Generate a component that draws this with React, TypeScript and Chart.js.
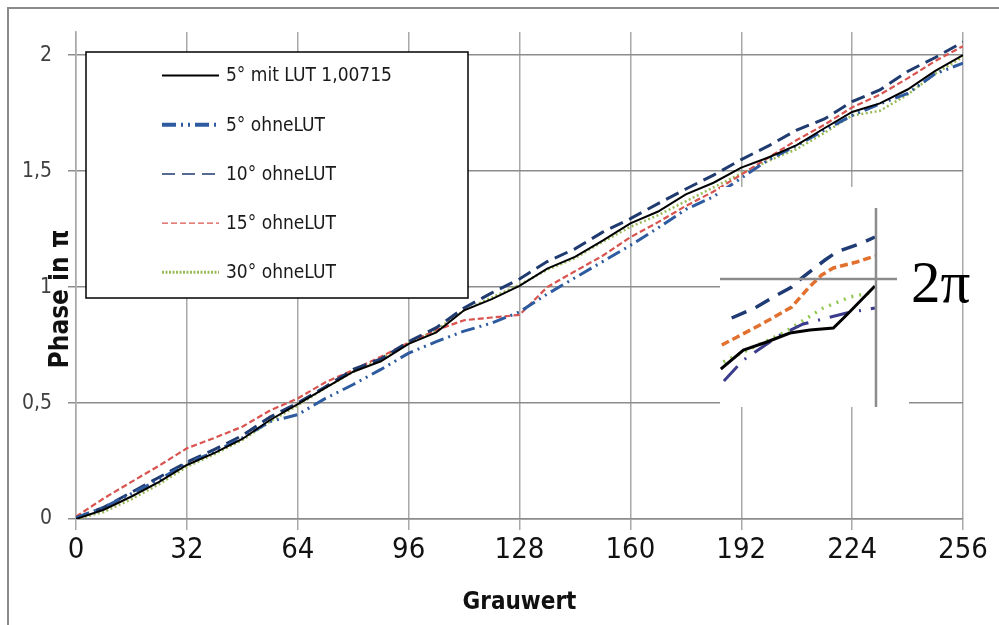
import React, { useEffect, useRef } from "react";
import { Chart, registerables } from "chart.js";
Chart.register(...registerables);

// ---------- main chart data ----------
const grauwert = [0, 8, 16, 24, 32, 40, 48, 56, 64, 72, 80, 88, 96, 104, 112, 120, 128, 136, 144, 152, 160, 168, 176, 184, 192, 200, 208, 216, 224, 232, 240, 248, 256];
const mitLut5 = [0.0, 0.04, 0.097, 0.16, 0.233, 0.285, 0.345, 0.427, 0.495, 0.565, 0.635, 0.68, 0.755, 0.805, 0.9, 0.948, 1.005, 1.08, 1.13, 1.2, 1.275, 1.326, 1.4, 1.45, 1.515, 1.56, 1.612, 1.685, 1.755, 1.792, 1.852, 1.932, 2.0];
const ohneLut5 = [0.005, 0.05, 0.11, 0.17, 0.24, 0.29, 0.35, 0.42, 0.45, 0.52, 0.58, 0.645, 0.715, 0.765, 0.81, 0.845, 0.893, 0.97, 1.04, 1.11, 1.18, 1.255, 1.335, 1.39, 1.47, 1.55, 1.61, 1.677, 1.74, 1.79, 1.835, 1.92, 1.966];
const ohneLut10 = [0.005, 0.05, 0.115, 0.18, 0.245, 0.3, 0.36, 0.44, 0.5, 0.57, 0.645, 0.69, 0.765, 0.825, 0.91, 0.975, 1.035, 1.11, 1.165, 1.237, 1.295, 1.36, 1.423, 1.483, 1.55, 1.61, 1.677, 1.725, 1.8, 1.85, 1.93, 1.99, 2.057];
const ohneLut15 = [0.01, 0.089, 0.16, 0.23, 0.305, 0.35, 0.398, 0.468, 0.52, 0.59, 0.642, 0.7, 0.76, 0.815, 0.857, 0.869, 0.88, 1.0, 1.068, 1.135, 1.215, 1.28, 1.35, 1.412, 1.485, 1.56, 1.634, 1.7, 1.775, 1.83, 1.9, 1.975, 2.039];
const ohneLut30 = [0.0, 0.03, 0.085, 0.15, 0.225, 0.28, 0.34, 0.42, 0.49, 0.565, 0.635, 0.69, 0.76, 0.815, 0.9, 0.955, 1.01, 1.075, 1.125, 1.195, 1.26, 1.31, 1.37, 1.43, 1.49, 1.545, 1.595, 1.665, 1.74, 1.76, 1.83, 1.92, 1.993];

const seriesLabels = ["5° mit LUT 1,00715", "5° ohneLUT", "10° ohneLUT", "15° ohneLUT", "30° ohneLUT"];
const xTicks = [0, 32, 64, 96, 128, 160, 192, 224, 256];
const yTicks = [0, 0.5, 1, 1.5, 2];
const yTickLabels = ["0", "0,5", "1", "1,5", "2"];
const xTitle = "Grauwert";
const yTitle = "Phase in π";

// ---------- inset (zoom near 2π) data ----------
const insetX10 = [250.45, 251.41, 251.92, 252.76, 253.19, 254.04, 254.49, 255.45, 255.96];
const insetY10 = [1.961, 1.972, 1.98, 1.992, 2.002, 2.019, 2.027, 2.036, 2.042];
const insetX15 = [250.07, 251.54, 252.76, 253.4, 253.91, 254.36, 255.26, 255.96];
const insetY15 = [1.934, 1.954, 1.972, 1.991, 2.004, 2.011, 2.017, 2.023];
const insetX30 = [250.13, 250.9, 252.43, 253.97, 255.0, 255.96];
const insetY30 = [1.917, 1.927, 1.946, 1.971, 1.982, 1.987];
const insetXLut = [250.03, 250.9, 251.8, 252.69, 253.46, 254.36, 254.87, 255.96];
const insetYLut = [1.91, 1.929, 1.937, 1.946, 1.949, 1.951, 1.964, 1.993];
const insetX5 = [250.15, 250.9, 252.31, 253.2, 254.87, 255.96];
const insetY5 = [1.898, 1.919, 1.944, 1.955, 1.966, 1.971];
const insetMark = "2π";

const pairs = (xs: number[], ys: number[]) => xs.map((x, i) => ({ x, y: ys[i] }));

const COND = "'DejaVu Sans Condensed', 'DejaVu Sans', sans-serif";
const NARROW = "'Liberation Sans Narrow', 'DejaVu Sans Condensed', sans-serif";

const boxLegend = {
  id: "boxLegend",
  afterDatasetsDraw(chart: any) {
    const { ctx } = chart;
    ctx.save();
    ctx.fillStyle = "#ffffff";
    ctx.fillRect(86, 52, 382, 246);
    ctx.strokeStyle = "#000000";
    ctx.lineWidth = 1.5;
    ctx.strokeRect(86, 52, 382, 246);
    chart.data.datasets.forEach((ds: any, i: number) => {
      const y = 75.5 + i * 49.2;
      ctx.beginPath();
      ctx.setLineDash(ds.legendDash || []);
      ctx.strokeStyle = ds.borderColor;
      ctx.lineWidth = ds.legendWidth;
      ctx.moveTo(162, y);
      ctx.lineTo(219, y);
      ctx.stroke();
      ctx.setLineDash([]);
      ctx.fillStyle = "#1a1a1a";
      ctx.font = `19px ${COND}`;
      ctx.textBaseline = "middle";
      ctx.textAlign = "left";
      ctx.fillText(ds.label, 226, y + 1);
    });
    // axis titles
    ctx.fillStyle = "#111";
    ctx.textAlign = "center";
    ctx.textBaseline = "middle";
    ctx.font = `bold 24px ${COND}`;
    ctx.fillText(xTitle, chart.scales.x.getPixelForValue(128), 603);
    ctx.translate(61, 299);
    ctx.rotate(-Math.PI / 2);
    ctx.font = `bold 26px ${COND}`;
    ctx.fillText(yTitle, 0, 0);
    ctx.restore();
  },
};

const crosshair = {
  id: "crosshair",
  afterDatasetsDraw(chart: any) {
    const { ctx, scales } = chart;
    const { x, y } = scales;
    ctx.save();
    ctx.strokeStyle = "#8c8c8c";
    ctx.lineWidth = 2.5;
    ctx.beginPath();
    ctx.moveTo(x.getPixelForValue(250), y.getPixelForValue(2));
    ctx.lineTo(x.getPixelForValue(256.81), y.getPixelForValue(2));
    ctx.moveTo(x.getPixelForValue(256), y.getPixelForValue(2.071));
    ctx.lineTo(x.getPixelForValue(256), y.getPixelForValue(1.872));
    ctx.stroke();
    ctx.restore();
  },
};

export default function App() {
  const mainRef = useRef<HTMLCanvasElement>(null);
  const insetRef = useRef<HTMLCanvasElement>(null);

  useEffect(() => {
    const mk = (xs: number[], ys: number[]) => xs.map((x, i) => ({ x, y: ys[i] }));
    const main = new Chart(mainRef.current!, {
      type: "line",
      data: {
        datasets: [
          { label: seriesLabels[0], data: mk(grauwert, mitLut5), borderColor: "#000000", borderWidth: 2, borderDash: [], legendDash: [], legendWidth: 2.2 } as any,
          { label: seriesLabels[1], data: mk(grauwert, ohneLut5), borderColor: "#2e5b9f", borderWidth: 3, borderDash: [14, 5, 2, 5, 2, 5], legendDash: [14, 5, 2, 5, 2, 5], legendWidth: 4 } as any,
          { label: seriesLabels[2], data: mk(grauwert, ohneLut10), borderColor: "#1f3b70", borderWidth: 3, borderDash: [14, 7], legendDash: [13, 7], legendWidth: 1.5 } as any,
          { label: seriesLabels[3], data: mk(grauwert, ohneLut15), borderColor: "#d9534f", borderWidth: 2.2, borderDash: [6, 3], legendDash: [6, 3], legendWidth: 1.2 } as any,
          { label: seriesLabels[4], data: mk(grauwert, ohneLut30), borderColor: "#9bbb59", borderWidth: 2.5, borderDash: [2, 2.5], legendDash: [2, 1.5], legendWidth: 3 } as any,
        ],
      },
      options: {
        animation: false,
        responsive: false,
        devicePixelRatio: 1,
        layout: { padding: { left: 0, right: 36, top: 32, bottom: 0 } },
        plugins: { legend: { display: false }, tooltip: { enabled: false } },
        elements: { point: { radius: 0 }, line: { tension: 0 } },
        scales: {
          x: {
            type: "linear",
            min: 0,
            max: 256,
            afterBuildTicks: (s: any) => { s.ticks = xTicks.map((v) => ({ value: v })); },
            afterFit: (s: any) => { s.height = 106; },
            grid: { color: "#a8a8a8", lineWidth: 1.5, tickLength: 11 },
            border: { display: true, color: "#8c8c8c", width: 1.5 },
            ticks: { padding: 3, autoSkip: false, maxRotation: 0, color: "#111", font: { family: NARROW, size: 29 } },
          },
          y: {
            type: "linear",
            min: 0,
            max: 2.1,
            afterBuildTicks: (s: any) => { s.ticks = yTicks.map((v) => ({ value: v })); },
            afterFit: (s: any) => { s.width = 76; },
            grid: { color: "#8c8c8c", lineWidth: 1.5, tickLength: 8 },
            border: { display: true, color: "#a8a8a8", width: 1.5 },
            ticks: {
              padding: 16,
              color: "#404040",
              font: { family: COND, size: 21 },
              callback: (v: any) => { const i = yTicks.indexOf(Number(v)); return i >= 0 ? yTickLabels[i] : ""; },
            },
          },
        },
      } as any,
      plugins: [boxLegend],
    });

    const inset = new Chart(insetRef.current!, {
      type: "line",
      data: {
        datasets: [
          { data: pairs(insetXLut, insetYLut), borderColor: "#000000", borderWidth: 3, borderDash: [] },
          { data: pairs(insetX5, insetY5), borderColor: "#3c3c8c", borderWidth: 3, borderDash: [20, 10, 2, 10] },
          { data: pairs(insetX30, insetY30), borderColor: "#92c850", borderWidth: 3.5, borderDash: [2, 6] },
          { data: pairs(insetX15, insetY15), borderColor: "#e2702e", borderWidth: 3.5, borderDash: [8, 4] },
          { data: pairs(insetX10, insetY10), borderColor: "#1f3b73", borderWidth: 3.5, borderDash: [16, 10] },
        ],
      },
      options: {
        animation: false,
        responsive: false,
        devicePixelRatio: 1,
        layout: { padding: 0 },
        plugins: { legend: { display: false }, tooltip: { enabled: false } },
        elements: { point: { radius: 0 }, line: { tension: 0 } },
        scales: {
          x: { type: "linear", display: false, min: 250, max: 257.27 },
          y: { type: "linear", display: false, min: 1.872, max: 2.092 },
        },
      } as any,
      plugins: [crosshair],
    });

    return () => {
      main.destroy();
      inset.destroy();
    };
  }, []);

  return (
    <div style={{ position: "absolute", left: 0, top: 0, width: 999, height: 625, overflow: "hidden", background: "#fff" }}>
      <canvas ref={mainRef} width={999} height={625} style={{ position: "absolute", left: 0, top: 0, width: 999, height: 625 }} />
      <canvas ref={insetRef} width={189} height={220} style={{ position: "absolute", left: 720, top: 187, width: 189, height: 220, background: "#fff" }} />
      <div style={{ position: "absolute", left: 909, top: 250, width: 53, height: 64, background: "#fff" }} />
      <div style={{ position: "absolute", left: 911, top: 253, fontFamily: "'Liberation Serif', 'DejaVu Serif', serif", fontSize: 59, lineHeight: 1, color: "#000", whiteSpace: "nowrap" }}>{insetMark}</div>
      <div style={{ position: "absolute", left: 7, top: 7, width: 1100, height: 700, border: "2px solid #8a8a8a", pointerEvents: "none" }} />
    </div>
  );
}
